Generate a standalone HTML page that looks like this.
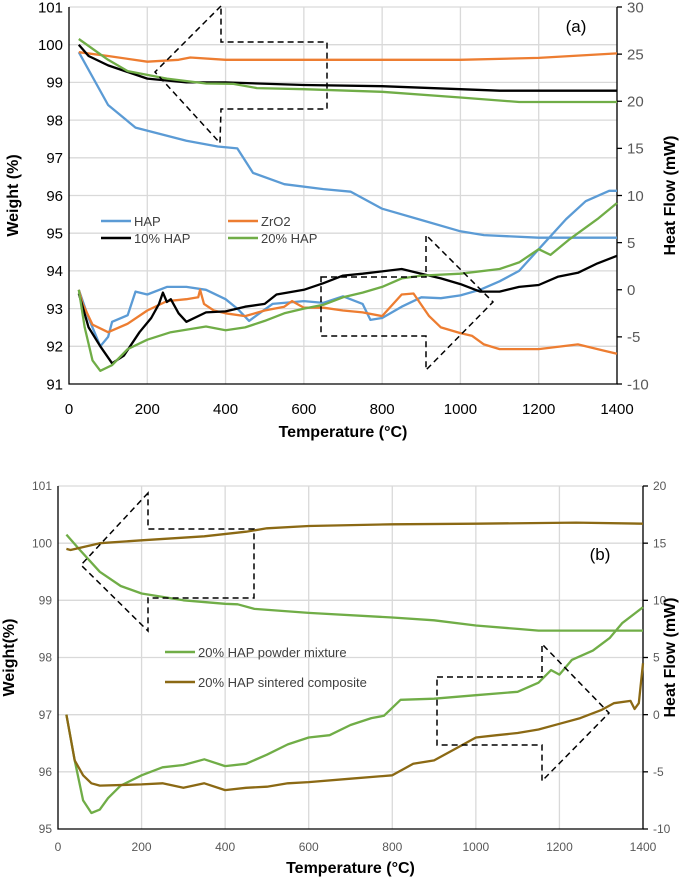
<!DOCTYPE html>
<html><head><meta charset="utf-8"><style>
html,body{margin:0;padding:0;background:#fff;}
svg{display:block;font-family:"Liberation Sans",sans-serif;}
</style></head><body>
<svg id="c" width="685" height="881" viewBox="0 0 685 881"></svg>
<script>
// ---------- Panel (a) data ----------
const aHapWT=[25,100,170,300,380,430,470,550,650,720,800,900,1000,1060,1200,1400];
const aHapW=[99.8,98.4,97.8,97.45,97.3,97.25,96.6,96.3,96.17,96.1,95.65,95.35,95.05,94.95,94.88,94.88];
const aZrWT=[25,100,200,280,310,400,600,1000,1200,1400];
const aZrW=[99.8,99.7,99.55,99.6,99.66,99.6,99.6,99.6,99.65,99.77];
const a10WT=[25,50,100,200,300,400,600,800,1000,1100,1400];
const a10W=[100.0,99.7,99.45,99.1,99.0,99.0,98.93,98.9,98.82,98.78,98.78];
const a20WT=[25,100,150,250,350,420,480,600,800,1000,1150,1400];
const a20W=[100.15,99.6,99.3,99.1,98.97,98.96,98.85,98.82,98.75,98.6,98.48,98.48];
const aHapHT=[25,50,80,100,110,150,170,200,250,300,350,400,430,460,480,520,600,650,700,750,770,800,850,900,950,1000,1050,1100,1150,1200,1270,1320,1380,1400];
const aHapH=[0,-3,-6,-5,-3.4,-2.7,-0.2,-0.5,0.3,0.3,0,-1,-2,-3.3,-2.7,-1.5,-1.2,-1.4,-0.7,-1.5,-3.2,-3,-1.8,-0.8,-0.9,-0.6,0,0.9,2,4.3,7.5,9.4,10.5,10.5];
const aZrHT=[25,35,60,100,150,200,250,300,330,335,345,370,400,450,500,550,570,600,650,700,750,800,850,880,920,950,1000,1030,1060,1100,1200,1300,1370,1400];
const aZrH=[0,-1.5,-3.7,-4.5,-3.6,-2.2,-1.2,-1,-0.8,0,-1.5,-2.2,-2.5,-2.8,-2.2,-1.8,-1.2,-1.9,-1.9,-2.2,-2.4,-2.8,-0.5,-0.4,-2.8,-4,-4.6,-4.9,-5.8,-6.3,-6.3,-5.8,-6.5,-6.8];
const a10HT=[25,50,80,110,140,180,210,230,240,250,260,280,300,350,400,450,500,530,600,650,700,750,850,900,950,1000,1050,1100,1150,1200,1250,1300,1350,1400];
const a10H=[-0.4,-4,-6,-7.8,-7,-4.5,-3,-1.5,-0.3,-1.3,-1.0,-2.5,-3.4,-2.4,-2.3,-1.8,-1.5,-0.5,0,0.7,1.5,1.7,2.2,1.7,1.2,0.6,-0.2,-0.2,0.3,0.5,1.4,1.8,2.8,3.6];
const a20HT=[25,40,60,80,110,150,200,260,350,400,450,500,550,600,650,700,750,800,850,900,1000,1100,1150,1200,1230,1280,1350,1400];
const a20H=[0,-4,-7.5,-8.6,-8,-6.3,-5.3,-4.5,-3.9,-4.3,-4,-3.3,-2.5,-2,-1.6,-0.8,-0.3,0.3,1.2,1.5,1.7,2.2,2.9,4.3,3.7,5.4,7.5,9.2];
const aXTicks=[0,200,400,600,800,1000,1200,1400];
const aYTicks=[91,92,93,94,95,96,97,98,99,100,101];
const aY2Ticks=[-10,-5,0,5,10,15,20,25,30];
// ---------- Panel (b) data ----------
const bGrWT=[20,50,100,150,200,300,400,430,470,600,800,900,1000,1100,1150,1400];
const bGrW=[100.15,99.9,99.5,99.25,99.12,99.0,98.94,98.93,98.85,98.78,98.7,98.65,98.56,98.5,98.47,98.47];
const bBrWT=[20,30,100,200,350,450,500,600,800,1000,1240,1400];
const bBrW=[99.9,99.88,100.0,100.05,100.12,100.2,100.26,100.3,100.33,100.34,100.36,100.34];
const bGrHT=[20,40,60,80,100,120,150,200,250,300,350,400,450,500,550,600,650,700,750,780,820,900,1000,1100,1150,1180,1200,1230,1280,1320,1350,1400];
const bGrH=[0,-4,-7.5,-8.6,-8.3,-7.3,-6.2,-5.3,-4.6,-4.4,-3.9,-4.5,-4.3,-3.5,-2.6,-2.0,-1.8,-0.9,-0.3,-0.1,1.3,1.4,1.7,2.0,2.8,3.9,3.5,4.8,5.6,6.7,8.0,9.4];
const bBrHT=[20,40,60,80,100,200,250,300,350,400,450,500,550,600,700,800,850,900,950,1000,1050,1100,1150,1200,1250,1300,1330,1370,1380,1390,1400];
const bBrH=[0,-4,-5.3,-6,-6.2,-6.1,-6,-6.4,-6.0,-6.6,-6.4,-6.3,-6.0,-5.9,-5.6,-5.3,-4.3,-4.0,-3.0,-2.0,-1.8,-1.6,-1.3,-0.8,-0.3,0.4,1.0,1.2,0.5,1.0,4.5];
const bXTicks=[0,200,400,600,800,1000,1200,1400];
const bYTicks=[95,96,97,98,99,100,101];
const bY2Ticks=[-10,-5,0,5,10,15,20];

const NS='http://www.w3.org/2000/svg';
const svg=document.getElementById('c');
function mk(tag,attrs,parent,text){const e=document.createElementNS(NS,tag);for(const k in attrs)e.setAttribute(k,attrs[k]);if(text!==undefined)e.textContent=text;(parent||svg).appendChild(e);return e;}
function lin(d0,d1,r0,r1){return v=>r0+(v-d0)*(r1-r0)/(d1-d0);}

function panel(P){
  const g=mk('g',{});
  
  
  const x=lin(0,1400,P.x0,P.x1), y=lin(P.ymin,P.ymax,P.yb,P.yt), y2=lin(P.y2min,P.y2max,P.yb,P.yt);
  // grid
  P.xt.forEach(t=>{if(t>0){const l=mk('line',{x1:x(t),x2:x(t),y1:P.yt,y2:P.yb,stroke:'#d9d9d9','stroke-width':1.3},g);}});
  P.yt_.forEach(t=>{if(t>P.ymin){const l=mk('line',{x1:P.x0,x2:P.x1,y1:y(t),y2:y(t),stroke:'#d9d9d9','stroke-width':1.3},g);}});
  // axes
  const ax=mk('path',{d:`M${P.x0},${P.yt}V${P.yb}H${P.x1}V${P.yt}`,fill:'none',stroke:'#000','stroke-width':1.3},g);
  
  P.xt.forEach(t=>{const e=mk('text',{x:x(t),y:P.xly,'text-anchor':'middle','font-size':P.fs,fill:P.tc},g,String(t));});
  P.yt_.forEach(t=>{const e=mk('text',{x:P.x0-6,y:y(t)+P.fs*0.35,'text-anchor':'end','font-size':P.fs,fill:P.tc},g,String(t));});
  P.y2t.forEach(t=>{mk('line',{x1:P.x1,x2:P.x1+5,y1:y2(t),y2:y2(t),stroke:'#000','stroke-width':1.3},g);const e=mk('text',{x:P.x1+10,y:y2(t)+P.fs*0.35,'font-size':P.fs,fill:'#595959'},g,String(t));});
  let e=mk('text',{x:(P.x0+P.x1)/2,y:P.xty,'text-anchor':'middle','font-size':16,'font-weight':'bold'},g,'Temperature (°C)');
  e=mk('text',{transform:`translate(${P.ytx},${(P.yt+P.yb)/2}) rotate(-90)`,'text-anchor':'middle','font-size':16,'font-weight':'bold'},g,P.ytitle);
  e=mk('text',{transform:`translate(${P.y2tx},${(P.yt+P.yb)/2}) rotate(-90)`,'text-anchor':'middle','font-size':16,'font-weight':'bold'},g,'Heat Flow (mW)');
  // series
  P.series.forEach(s=>{const sc=s.right?y2:y;const d=s.t.map((t,i)=>(i?'L':'M')+x(t).toFixed(1)+','+sc(s.v[i]).toFixed(1)).join('');const p=mk('path',{d,fill:'none',stroke:s.c,'stroke-width':2.3,'stroke-linejoin':'round'},g);});
  // arrows
  P.arrows.forEach((a,i)=>{const p=mk('polygon',{points:a,fill:'none',stroke:'#000','stroke-width':1.5,'stroke-dasharray':'6,4'},g);});
  // legend
  P.legend.forEach(L=>{const lg=mk('g',{},g);mk('line',{x1:L[0],x2:L[0]+30,y1:L[1],y2:L[1],stroke:L[3],'stroke-width':2.5},lg);mk('text',{x:L[0]+33,y:L[1]+5,'font-size':13,fill:'#404040'},lg,L[2]);});
  e=mk('text',{x:P.lab[0],y:P.lab[1],'font-size':17,'text-anchor':'middle'},g,P.lab[2]);
}

panel({name:'panel-a',x0:69,x1:617,yt:7,yb:384,ymin:91,ymax:101,y2min:-10,y2max:30,
  xt:aXTicks,yt_:aYTicks,y2t:aY2Ticks,fs:15,tc:'#000',xly:414,xty:437,ytx:18,y2tx:675,ytitle:'Weight (%)',
  series:[
    {n:'hap-weight',t:aHapWT,v:aHapW,c:'#5b9bd5'},
    {n:'zro2-weight',t:aZrWT,v:aZrW,c:'#ed7d31'},
    {n:'hap10-weight',t:a10WT,v:a10W,c:'#000'},
    {n:'hap20-weight',t:a20WT,v:a20W,c:'#70ad47'},
    {n:'hap-heat',t:aHapHT,v:aHapH,c:'#5b9bd5',right:1},
    {n:'zro2-heat',t:aZrHT,v:aZrH,c:'#ed7d31',right:1},
    {n:'hap10-heat',t:a10HT,v:a10H,c:'#000',right:1},
    {n:'hap20-heat',t:a20HT,v:a20H,c:'#70ad47',right:1}],
  arrows:['221,6 155,72 220,143 221,109 327,109 327,42 221,42','321,277 426,277 426,235 493,302 426,370 426,336 321,336'],
  legend:[[101,221,'HAP','#5b9bd5'],[228,221,'ZrO2','#ed7d31'],[101,238,'10% HAP','#000'],[228,238,'20% HAP','#70ad47']],
  lab:[576,32,'(a)']});

panel({name:'panel-b',x0:58,x1:643,yt:486,yb:829,ymin:95,ymax:101,y2min:-10,y2max:20,
  xt:bXTicks,yt_:bYTicks,y2t:bY2Ticks,fs:12,tc:'#595959',xly:851,xty:873,ytx:14,y2tx:675,ytitle:'Weight(%)',
  series:[
    {n:'powder-mixture-weight',t:bGrWT,v:bGrW,c:'#70ad47'},
    {n:'sintered-composite-weight',t:bBrWT,v:bBrW,c:'#8b6914'},
    {n:'powder-mixture-heat',t:bGrHT,v:bGrH,c:'#70ad47',right:1},
    {n:'sintered-composite-heat',t:bBrHT,v:bBrH,c:'#8b6914',right:1}],
  arrows:['148,493 81,565 148,631 148,598 254,598 254,529 148,529','437,677 542,677 542,644 609,713 542,781 542,745 437,745'],
  legend:[[165,652,'20% HAP powder mixture','#70ad47'],[165,682,'20% HAP sintered composite','#8b6914']],
  lab:[600,560,'(b)']});
</script>
</body></html>
